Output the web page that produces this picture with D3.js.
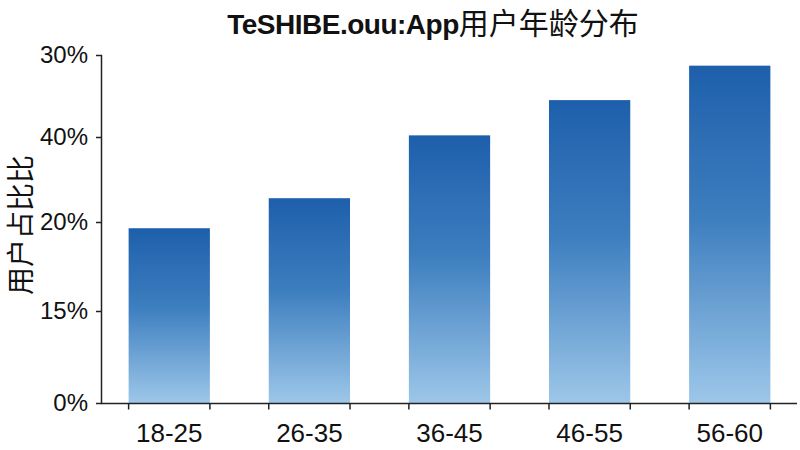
<!DOCTYPE html>
<html><head><meta charset="utf-8">
<script src="https://cdn.jsdelivr.net/npm/d3@7"></script>
<style>
body{margin:0;background:#fff;}
svg{display:block;font-family:"Liberation Sans",Arial,sans-serif;}
</style></head>
<body><svg id="c" width="800" height="450"></svg>
<script>
const categories = ["18-25","26-35","36-45","46-55","56-60"];
const values = [19.3, 22.8, 30.2, 34.5, 38.7];
const yTickValues = [0, 10, 20, 30, 40];
const yTickLabels = ["0%","15%","20%","40%","30%"];
const titleLatin = "TeSHIBE.ouu:App";
const titleCJK = "用户年龄分布";
const yAxisTitle = "用户占比比";

const svg = d3.select("#c");
const x = d3.scaleBand().domain(categories).range([102, 797]).paddingInner(0.42).paddingOuter(0.19);
const y = d3.scaleLinear().domain(yTickValues).range([403, 311, 222, 137, 55]);

const defs = svg.append("defs");
const g = defs.append("linearGradient").attr("id","bg").attr("x1",0).attr("y1",0).attr("x2",0).attr("y2",1);
g.append("stop").attr("offset","0%").attr("stop-color","#1e5fac");
g.append("stop").attr("offset","45%").attr("stop-color","#3d7ebf");
g.append("stop").attr("offset","100%").attr("stop-color","#9dc7e9");

svg.selectAll("rect.bar").data(values).join("rect").attr("class","bar")
  .attr("x",(d,i)=>x(categories[i])).attr("width",x.bandwidth())
  .attr("y",d=>y(d)).attr("height",d=>y(0)-y(d))
  .attr("fill","url(#bg)");

// y axis
const yAxis = d3.axisLeft(y).tickValues(yTickValues).tickSize(6).tickPadding(8)
  .tickFormat((d,i)=>yTickLabels[i]);
const ya = svg.append("g").attr("transform","translate(102,0)").call(yAxis);
ya.select(".domain").attr("d","M-0.5,55V403.5").attr("stroke","#222").attr("stroke-width",1.5);
ya.selectAll(".tick line").attr("stroke","#222").attr("stroke-width",1.5);
ya.selectAll(".tick text").attr("font-size",24).attr("fill","#111").attr("font-family","Liberation Sans, Arial, sans-serif");

// x axis
const xAxis = d3.axisBottom(x).tickSize(0).tickPadding(15);
const xa = svg.append("g").attr("transform","translate(0,403.5)").call(xAxis);
xa.select(".domain").attr("d","M101,0H797").attr("stroke","#222").attr("stroke-width",1.5);
xa.selectAll(".tick text").attr("font-size",26).attr("fill","#111").attr("font-family","Liberation Sans, Arial, sans-serif").attr("dy","0.9em");
const edges = categories.flatMap(c=>[x(c), x(c)+x.bandwidth()]);
xa.selectAll("line.edge").data(edges).join("line").attr("class","edge")
  .attr("x1",d=>d).attr("x2",d=>d).attr("y1",0).attr("y2",6)
  .attr("stroke","#222").attr("stroke-width",1.5);

// title
const t = svg.append("text").attr("x",433).attr("y",34).attr("text-anchor","middle").attr("fill","#111");
t.append("tspan").attr("font-weight","bold").attr("font-size",28).attr("font-family","Liberation Sans, Arial, sans-serif").attr("letter-spacing","-0.5").text(titleLatin);
t.append("tspan").attr("font-size",30).attr("font-family","Noto Sans CJK SC, sans-serif").text(titleCJK);

// y title
svg.append("text").attr("transform","translate(19,225) rotate(-90)").attr("text-anchor","middle")
  .attr("dominant-baseline","central")
  .attr("font-size",28).attr("font-family","Noto Sans CJK SC, sans-serif").attr("fill","#111").text(yAxisTitle);
</script></body></html>
